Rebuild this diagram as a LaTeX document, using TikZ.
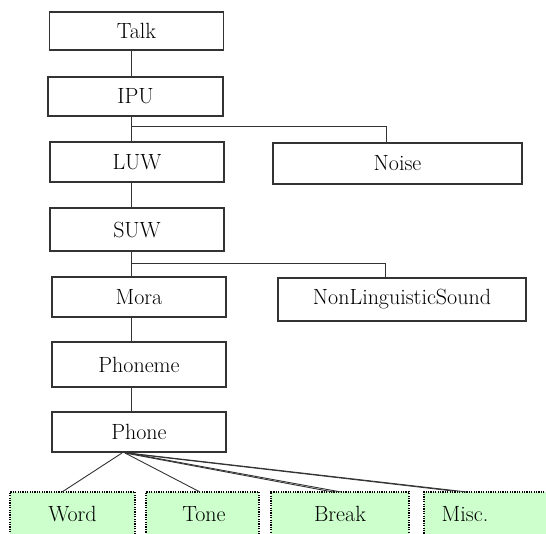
\documentclass[tikz,border=0pt]{standalone}
\usepackage{fontspec}
\usetikzlibrary{calc}
\definecolor{boxline}{HTML}{333333}
\definecolor{paleGreen}{HTML}{CCFFCC}
\begin{document}
\begin{tikzpicture}[x=1pt,y=-1pt,
  every node/.style={font=\fontsize{22}{24}\selectfont, inner sep=0pt},
  box/.style={draw=boxline, line width=1.1pt, fill=white, rectangle, minimum width=174pt, minimum height=40pt},
  gbox/.style={draw=black, line width=1.7pt, dash pattern=on 1.3pt off 1.1pt, fill=paleGreen, rectangle, minimum height=54pt},
  link/.style={draw=boxline, line width=0.9pt}]
\useasboundingbox (0,0) rectangle (546,534);
\clip (0,0) rectangle (546,534);
% main column
\node[box, minimum height=38pt] (Talk) at (136.5,31) {Talk};
\node[box, minimum width=175pt, minimum height=39pt] (IPU) at (135.5,96.5) {IPU};
\node[box] (LUW) at (137,162) {LUW};
\node[box, minimum height=43pt] (SUW) at (137,229.5) {SUW};
\node[box] (Mora) at (139,297) {Mora};
\node[box, minimum height=45pt] (Phoneme) at (139,364.5) {Phoneme};
\node[box] (Phone) at (139,432) {Phone};
% side boxes
\node[box, minimum width=249pt, minimum height=41pt] (Noise) at (397.5,163.5) {Noise};
\node[box, minimum width=248pt, minimum height=43pt] (NLS) at (402,299.5) {NonLinguisticSound};
% green boxes
\node[gbox, minimum width=125pt] (Word) at (72.5,519) {};
\node at (72.5,514) {Word};
\node[gbox, minimum width=113pt] (Tone) at (202.5,519) {};
\node at (204,514) {Tone};
\node[gbox, minimum width=138pt] (Break) at (340,519) {};
\node at (340,514) {Break};
\node[gbox, minimum width=140pt] (Misc) at (494,519) {};
\node at (465,514) {Misc.};
% spine coordinates
\coordinate (spine) at (131,0);
\coordinate (br1) at (0,126.5);
\coordinate (br2) at (0,263);
\coordinate (noiseX) at (386,0);
\coordinate (nlsX) at (385,0);
% vertical connectors
\draw[link] (Talk.south -| spine) -- (IPU.north -| spine);
\draw[link] (IPU.south -| spine) -- (LUW.north -| spine);
\draw[link] (br1 -| spine) -- (br1 -| noiseX) -- (Noise.north -| noiseX);
\draw[link] (LUW.south -| spine) -- (SUW.north -| spine);
\draw[link] (SUW.south -| spine) -- (Mora.north -| spine);
\draw[link] (br2 -| spine) -- (br2 -| nlsX) -- (NLS.north -| nlsX);
\draw[link] (Mora.south -| spine) -- (Phoneme.north -| spine);
\draw[link] (Phoneme.south -| spine) -- (Phone.north -| spine);
% fan from Phone
\coordinate (fanA) at (122,453);
\coordinate (fanB) at (125,453);
\coordinate (fanC) at (128,453);
\coordinate (wEnd) at (62,492);
\coordinate (tEnd) at (200,492);
\coordinate (bEnd1) at (333,492);
\coordinate (bEnd2) at (341,492);
\coordinate (mEnd1) at (453,491);
\coordinate (mEnd2) at (467,492);
\draw[link] (fanA) -- (wEnd);
\draw[link] (fanB) -- (tEnd);
\draw[link] (fanB) -- (bEnd1);
\draw[link] (fanC) -- (bEnd2);
\draw[link] (fanB) -- (mEnd1);
\draw[link] (fanC) -- (mEnd2);
\end{tikzpicture}
\end{document}
